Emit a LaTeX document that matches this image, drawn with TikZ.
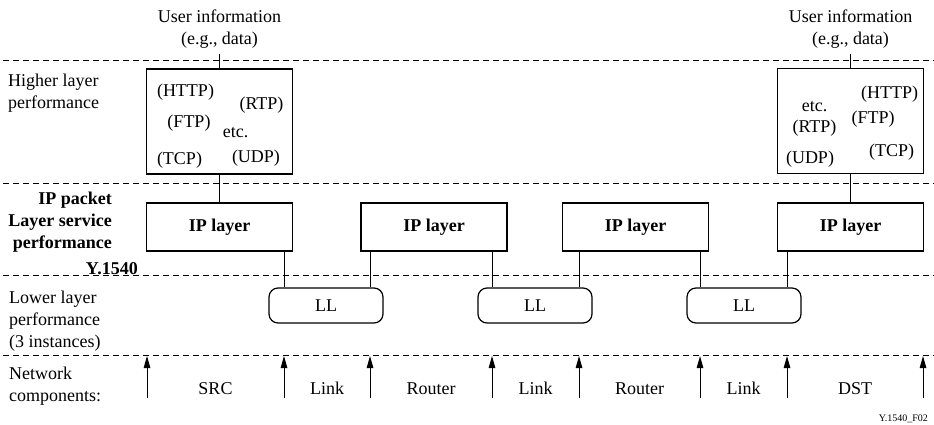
\documentclass[tikz,border=0pt]{standalone}
\usepackage{fontspec}
\setmainfont{Liberation Serif}
\usetikzlibrary{arrows.meta, positioning}
\newcommand{\figfont}{\fontsize{18}{22}\selectfont}

\begin{document}
\begin{tikzpicture}[x=1pt, y=-1pt, font=\figfont]
    \tikzstyle{hlbox}=[draw, line width=1.3pt, minimum width=146pt, minimum height=105pt, inner sep=0pt]
    \tikzstyle{ipbox}=[draw, line width=1.8pt, minimum width=146pt, minimum height=48pt, inner sep=0pt, font=\figfont\bfseries]
    \tikzstyle{llbox}=[draw, line width=1.2pt, rounded corners=9pt, minimum width=114pt, minimum height=35pt, inner sep=0pt]
    \tikzstyle{sep}=[line width=1pt, dash pattern=on 6pt off 4pt]
    \tikzstyle{conn}=[line width=1pt]
    \tikzstyle{arr}=[line width=1pt, -{Triangle[length=12pt, width=6.5pt]}]
    \tikzstyle{lbl}=[anchor=north west, inner sep=0pt, align=left]

    \useasboundingbox (0,0) rectangle (934,425);

    % layer separators
    \draw[sep] (3,61) -- (934,61);
    \draw[sep] (3,183) -- (934,183);
    \draw[sep] (3,275) -- (934,275);
    \draw[sep] (3,355) -- (934,355);

    % left column
    \node[lbl] (hllbl) at (8,74) {Higher layer\\performance};
    \node[anchor=north east, inner sep=0pt, align=right, font=\figfont\bfseries] (iplbl) at (112,192) {IP packet\\Layer service\\performance};
    \node[anchor=north east, inner sep=0pt, font=\figfont\bfseries, below=10pt of iplbl.south east, anchor=north east, xshift=26pt] (yref) {Y.1540};
    \node[lbl] (lllbl) at (9,291) {Lower layer\\performance\\(3 instances)};
    \node[lbl] (nclbl) at (9,367) {Network\\components:};

    % boxes
    \node[hlbox] (hl1) at (219.5,121.5) {};
    \node[hlbox] (hl2) at (850.5,121) {};
    \node[ipbox] (ip1) at (219.5,227) {IP layer};
    \node[ipbox] (ip2) at (434,227) {IP layer};
    \node[ipbox] (ip3) at (635.5,227) {IP layer};
    \node[ipbox] (ip4) at (850.5,227) {IP layer};
    \node[llbox] (ll1) at (326,305.5) {LL};
    \node[llbox] (ll2) at (535,305.5) {LL};
    \node[llbox] (ll3) at (744,305.5) {LL};

    % protocols in the higher layer boxes
    \node (http1) at (185.5,92.5) {(HTTP)};
    \node (rtp1) at (261.5,105) {(RTP)};
    \node (ftp1) at (189,123) {(FTP)};
    \node (etc1) at (235.5,133) {etc.};
    \node (tcp1) at (179.5,160.5) {(TCP)};
    \node (udp1) at (256,158) {(UDP)};

    \node (etc2) at (814.5,107) {etc.};
    \node (http2) at (889.5,94.5) {(HTTP)};
    \node (rtp2) at (814.5,128.5) {(RTP)};
    \node (ftp2) at (873,119.5) {(FTP)};
    \node (udp2) at (810,159.5) {(UDP)};
    \node (tcp2) at (891.5,152.5) {(TCP)};

    % user information
    \node[align=center, inner xsep=0pt, inner ysep=6pt] (user1) at (219.5,29) {User information\\(e.g., data)};
    \node[align=center, inner xsep=0pt, inner ysep=6pt] (user2) at (850.5,29) {User information\\(e.g., data)};

    \draw[conn] (user1.south) -- (hl1.north);
    \draw[conn] (hl1.south) -- (ip1.north);
    \draw[conn] (user2.south) -- (hl2.north);
    \draw[conn] (hl2.south) -- (ip4.north);

    % component boundaries
    \coordinate (p1) at (147,0);
    \coordinate (p2) at (284,0);
    \coordinate (p3) at (370,0);
    \coordinate (p4) at (492,0);
    \coordinate (p5) at (579,0);
    \coordinate (p6) at (700,0);
    \coordinate (p7) at (787,0);
    \coordinate (p8) at (923,0);
    \coordinate (arrbot) at (0,398);
    \coordinate (arrtop) at (0,356);

    \draw[conn] (ip1.south -| p2) -- (ll1.north -| p2);
    \draw[conn] (ip2.south -| p3) -- (ll1.north -| p3);
    \draw[conn] (ip2.south -| p4) -- (ll2.north -| p4);
    \draw[conn] (ip3.south -| p5) -- (ll2.north -| p5);
    \draw[conn] (ip3.south -| p6) -- (ll3.north -| p6);
    \draw[conn] (ip4.south -| p7) -- (ll3.north -| p7);

    \draw[arr] (p1 |- arrbot) -- (p1 |- arrtop);
    \draw[arr] (p2 |- arrbot) -- (p2 |- arrtop);
    \draw[arr] (p3 |- arrbot) -- (p3 |- arrtop);
    \draw[arr] (p4 |- arrbot) -- (p4 |- arrtop);
    \draw[arr] (p5 |- arrbot) -- (p5 |- arrtop);
    \draw[arr] (p6 |- arrbot) -- (p6 |- arrtop);
    \draw[arr] (p7 |- arrbot) -- (p7 |- arrtop);
    \draw[arr] (p8 |- arrbot) -- (p8 |- arrtop);

    % network components
    \node[anchor=base] (src) at (215.5,394) {SRC};
    \node[anchor=base] (link1) at (327,394) {Link};
    \node[anchor=base] (router1) at (431,394) {Router};
    \node[anchor=base] (link2) at (535.5,394) {Link};
    \node[anchor=base] (router2) at (639.5,394) {Router};
    \node[anchor=base] (link3) at (743.5,394) {Link};
    \node[anchor=base] (dst) at (855,394) {DST};

    \node[anchor=base east, inner sep=0pt, font=\fontsize{10}{12}\selectfont] (figref) at (928,421) {Y.1540\_F02};
  \end{tikzpicture}
\end{document}
